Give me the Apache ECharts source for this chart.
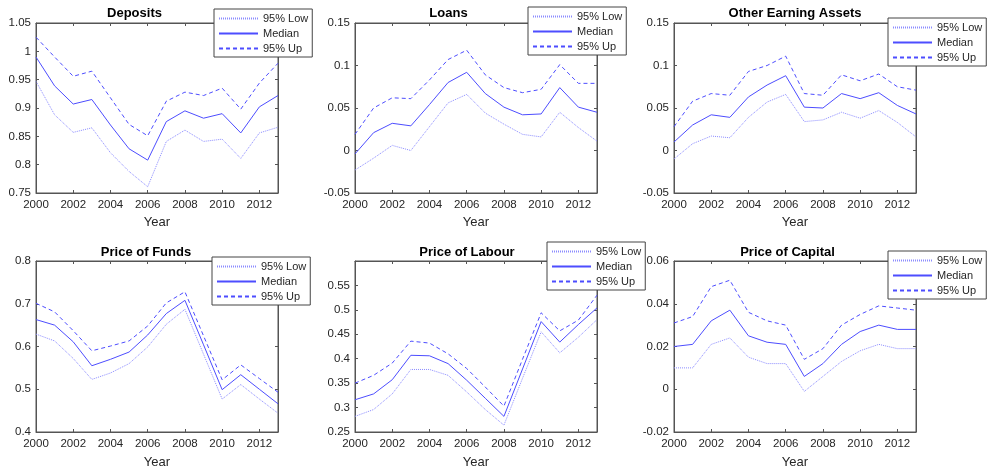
<!DOCTYPE html>
<html>
<head>
<meta charset="utf-8">
<script src="https://cdn.jsdelivr.net/npm/echarts@6/dist/echarts.min.js"></script>
<style>
  html, body { margin: 0; padding: 0; background: #fff; }
  #chart { width: 988px; height: 474px; }
</style>
</head>
<body>
<div id="chart"></div>
<script>
// years on the x axis
const years = ['2000', '2001', '2002', '2003', '2004', '2005', '2006',
  '2007', '2008', '2009', '2010', '2011', '2012', '2013'];
const seriesNames = ['95% Low', 'Median', '95% Up'];

// Deposits
const depositsLow = [0.947, 0.888, 0.857, 0.865, 0.821, 0.788, 0.761, 0.841, 0.861, 0.841, 0.845, 0.811, 0.856, 0.866];
const depositsMed = [0.990, 0.939, 0.907, 0.915, 0.870, 0.828, 0.808, 0.876, 0.895, 0.882, 0.890, 0.856, 0.902, 0.922];
const depositsUp = [1.025, 0.990, 0.956, 0.965, 0.918, 0.871, 0.851, 0.912, 0.928, 0.922, 0.935, 0.898, 0.944, 0.979];

// Loans
const loansLow = [-0.023, -0.009, 0.006, 0.000, 0.028, 0.056, 0.066, 0.044, 0.031, 0.019, 0.016, 0.045, 0.027, 0.011];
const loansMed = [-0.004, 0.021, 0.032, 0.029, 0.054, 0.080, 0.092, 0.067, 0.051, 0.042, 0.043, 0.074, 0.051, 0.045];
const loansUp = [0.019, 0.050, 0.062, 0.061, 0.083, 0.107, 0.118, 0.089, 0.074, 0.068, 0.072, 0.101, 0.079, 0.079];

// Other Earning Assets
const otherLow = [-0.010, 0.008, 0.017, 0.015, 0.039, 0.057, 0.066, 0.034, 0.036, 0.045, 0.038, 0.047, 0.033, 0.016];
const otherMed = [0.010, 0.030, 0.042, 0.039, 0.063, 0.077, 0.088, 0.051, 0.050, 0.067, 0.061, 0.068, 0.053, 0.043];
const otherUp = [0.028, 0.058, 0.067, 0.065, 0.093, 0.100, 0.111, 0.067, 0.065, 0.089, 0.082, 0.090, 0.075, 0.071];

// Price of Funds
const fundsLow = [0.629, 0.613, 0.572, 0.523, 0.538, 0.560, 0.599, 0.652, 0.687, 0.582, 0.477, 0.511, 0.477, 0.444];
const fundsMed = [0.663, 0.650, 0.611, 0.555, 0.570, 0.587, 0.627, 0.677, 0.708, 0.604, 0.499, 0.534, 0.500, 0.466];
const fundsUp = [0.701, 0.681, 0.637, 0.590, 0.601, 0.613, 0.648, 0.702, 0.728, 0.625, 0.522, 0.557, 0.525, 0.493];

// Price of Labour
const labourLow = [0.282, 0.296, 0.328, 0.378, 0.378, 0.366, 0.332, 0.296, 0.264, 0.360, 0.455, 0.412, 0.444, 0.480];
const labourMed = [0.316, 0.328, 0.357, 0.407, 0.406, 0.390, 0.356, 0.319, 0.282, 0.379, 0.476, 0.434, 0.470, 0.504];
const labourUp = [0.350, 0.366, 0.391, 0.436, 0.432, 0.410, 0.380, 0.342, 0.303, 0.399, 0.494, 0.457, 0.479, 0.530];

// Price of Capital
const capitalLow = [0.010, 0.010, 0.021, 0.024, 0.015, 0.012, 0.012, -0.001, 0.006, 0.013, 0.018, 0.021, 0.019, 0.019];
const capitalMed = [0.020, 0.021, 0.032, 0.037, 0.025, 0.022, 0.021, 0.006, 0.012, 0.021, 0.027, 0.030, 0.028, 0.028];
const capitalUp = [0.031, 0.034, 0.048, 0.051, 0.036, 0.032, 0.030, 0.014, 0.019, 0.030, 0.035, 0.039, 0.038, 0.037];

const panels = [
  { title: 'Deposits', data: [depositsLow, depositsMed, depositsUp], min: 0.75, max: 1.05, step: 0.05 },
  { title: 'Loans', data: [loansLow, loansMed, loansUp], min: -0.05, max: 0.15, step: 0.05 },
  { title: 'Other Earning Assets', data: [otherLow, otherMed, otherUp], min: -0.05, max: 0.15, step: 0.05 },
  { title: 'Price of Funds', data: [fundsLow, fundsMed, fundsUp], min: 0.4, max: 0.8, step: 0.1 },
  { title: 'Price of Labour', data: [labourLow, labourMed, labourUp], min: 0.25, max: 0.6, step: 0.05, hideMax: true },
  { title: 'Price of Capital', data: [capitalLow, capitalMed, capitalUp], min: -0.02, max: 0.06, step: 0.02 }
];

// layout: [left, top, width, height]
const gridBoxes = [
  [36, 23, 242, 170], [355, 23, 242, 170], [674, 23, 242, 170],
  [36, 261, 242, 171], [355, 261, 242, 171], [674, 261, 242, 171]
];
const titleSpots = [[134.5, 7], [448.5, 7], [795, 7], [146, 246], [467, 246], [787.5, 246]];
const legendSpots = [[214, 9], [528, 7], [888, 18], [212, 257], [547, 242], [888, 251]];

const font = 'Liberation Sans, Arial, Helvetica, sans-serif';
const axisColor = '#555';
const labelColor = '#262626';
const lineStyles = [
  { color: '#8c8cff', width: 1, type: [1, 1] },
  { color: '#4d4dff', width: 1, type: 'solid' },
  { color: '#4d4dff', width: 1, type: [4, 3] }
];

let myChart = echarts.init(document.getElementById('chart'));

let grid = [], xAxis = [], yAxis = [], series = [], title = [], legend = [];

panels.forEach((p, i) => {
  let g = gridBoxes[i];
  // the grid border gives the MATLAB box
  grid.push({
    left: g[0], top: g[1], width: g[2], height: g[3],
    outerBoundsMode: 'none',
    show: true,
    borderColor: axisColor,
    borderWidth: 1,
    backgroundColor: 'transparent'
  });

  title.push({
    text: p.title,
    left: titleSpots[i][0],
    top: titleSpots[i][1],
    textAlign: 'center',
    padding: 0,
    textStyle: { fontFamily: font, fontSize: 13, fontWeight: 'bold', color: '#000' }
  });

  legend.push({
    data: seriesNames,
    orient: 'vertical',
    left: legendSpots[i][0],
    top: legendSpots[i][1],
    padding: [4, 4, 3, 4],
    itemWidth: 39,
    itemHeight: 10,
    itemGap: 4,
    backgroundColor: '#fff',
    borderColor: '#444',
    borderWidth: 1,
    borderRadius: 0,
    selectedMode: false,
    itemStyle: { opacity: 0 },
    textStyle: { fontFamily: font, fontSize: 11, color: labelColor }
  });

  // bottom + top x axes
  xAxis.push({
    type: 'category',
    gridIndex: i,
    position: 'bottom',
    data: years,
    boundaryGap: false,
    name: 'Year',
    nameLocation: 'middle',
    nameGap: i < 3 ? 23 : 24,
    nameTextStyle: { fontFamily: font, fontSize: 13, color: labelColor },
    axisLine: { onZero: false, lineStyle: { color: axisColor, width: 1 } },
    axisTick: { inside: true, length: 3, interval: 1, lineStyle: { color: axisColor } },
    axisLabel: { interval: 1, margin: 6, fontFamily: font, fontSize: 11.5, color: labelColor },
    splitLine: { show: false }
  });
  xAxis.push({
    type: 'category',
    gridIndex: i,
    position: 'top',
    data: years,
    boundaryGap: false,
    axisLine: { onZero: false, lineStyle: { color: axisColor, width: 1 } },
    axisTick: { inside: true, length: 3, interval: 1, lineStyle: { color: axisColor } },
    axisLabel: { show: false },
    splitLine: { show: false }
  });

  // left + right y axes
  yAxis.push({
    type: 'value',
    gridIndex: i,
    position: 'left',
    min: p.min,
    max: p.max,
    interval: p.step,
    axisLine: { show: true, onZero: false, lineStyle: { color: axisColor, width: 1 } },
    axisTick: { show: true, inside: true, length: 3, lineStyle: { color: axisColor } },
    axisLabel: { margin: 5, fontFamily: font, fontSize: 11.5, color: labelColor, showMaxLabel: !p.hideMax },
    splitLine: { show: false }
  });
  yAxis.push({
    type: 'value',
    gridIndex: i,
    position: 'right',
    min: p.min,
    max: p.max,
    interval: p.step,
    axisLine: { show: true, onZero: false, lineStyle: { color: axisColor, width: 1 } },
    axisTick: { show: true, inside: true, length: 3, lineStyle: { color: axisColor } },
    axisLabel: { show: false },
    splitLine: { show: false }
  });

  p.data.forEach((vals, k) => {
    series.push({
      name: seriesNames[k],
      type: 'line',
      xAxisIndex: 2 * i,
      yAxisIndex: 2 * i,
      data: vals,
      symbol: 'none',
      silent: true,
      animation: false,
      color: lineStyles[k].color,
      lineStyle: lineStyles[k],
      z: 3 - k
    });
  });
});

myChart.setOption({
  backgroundColor: '#fff',
  animation: false,
  title: title,
  legend: legend,
  grid: grid,
  xAxis: xAxis,
  yAxis: yAxis,
  series: series
});
</script>
</body>
</html>
